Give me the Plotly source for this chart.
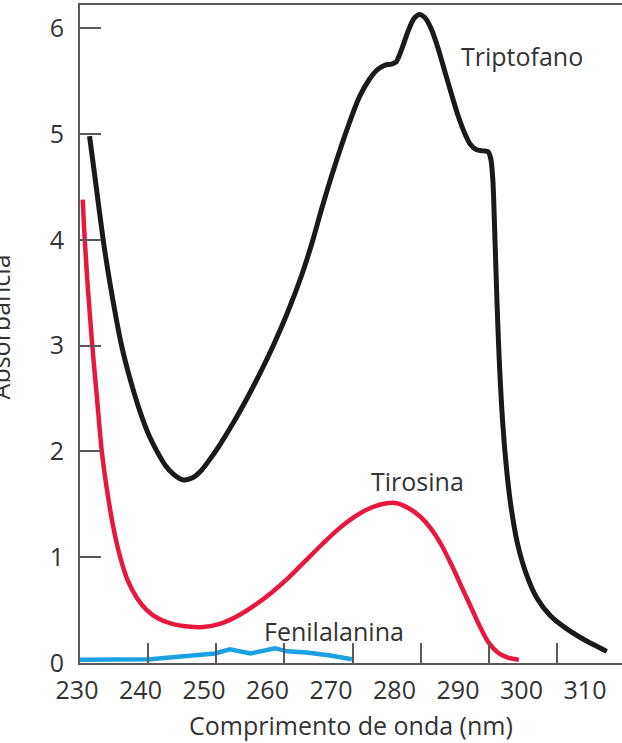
import plotly.graph_objects as go

# Absorption spectra of the aromatic amino acids (wavelength in nm, absorbance)
trp_nm = [231.4, 232.4, 233.4, 234.5, 236.1, 237.5, 239.0, 240.2, 241.3, 242.5,
          243.8, 245.2, 246.5, 247.8, 249.0, 250.5, 252.5, 254.5, 256.5, 258.5,
          260.5, 262.5, 264.0, 265.5, 267.5, 269.5, 271.0, 272.5, 273.7, 274.8,
          275.7, 276.4, 277.2, 278.2, 279.0, 279.8, 280.6, 281.5, 282.5, 283.5,
          284.5, 285.5, 286.5, 287.3, 288.2, 289.2, 289.9, 290.3, 290.6, 290.9,
          291.2, 291.5, 291.9, 292.5, 293.2, 294.2, 295.5, 297.0, 299.0, 301.5,
          304.0, 307.3]
trp_abs = [4.98, 4.49, 4.00, 3.55, 3.00, 2.65, 2.34, 2.14, 2.00, 1.87,
           1.78, 1.73, 1.75, 1.82, 1.92, 2.06, 2.27, 2.50, 2.75, 3.02,
           3.32, 3.66, 3.96, 4.30, 4.72, 5.10, 5.35, 5.52, 5.61, 5.65,
           5.66, 5.68, 5.80, 5.98, 6.09, 6.13, 6.10, 6.00, 5.82, 5.60,
           5.38, 5.17, 5.00, 4.90, 4.85, 4.84, 4.83, 4.76, 4.55, 4.00,
           3.40, 2.90, 2.40, 1.90, 1.50, 1.13, 0.84, 0.62, 0.45, 0.32,
           0.22, 0.11]

tyr_nm = [230.4, 230.7, 231.2, 231.8, 232.5, 233.2, 234.0, 234.9, 235.9, 237.0,
          238.3, 239.8, 241.5, 243.5, 245.8, 248.1, 250.5, 253.0, 255.5, 258.0,
          260.5, 263.0, 265.5, 268.0, 270.5, 272.8, 275.0, 276.5, 278.3, 280.0,
          281.5, 283.0, 284.5, 286.0, 287.5, 288.8, 290.0, 291.3, 292.8, 294.4]
tyr_abs = [4.38, 4.00, 3.50, 3.00, 2.50, 2.00, 1.62, 1.28, 1.00, 0.78,
           0.62, 0.50, 0.42, 0.37, 0.345, 0.34, 0.37, 0.44, 0.54, 0.66,
           0.80, 0.96, 1.12, 1.27, 1.39, 1.47, 1.51, 1.51, 1.46, 1.38,
           1.27, 1.12, 0.93, 0.72, 0.51, 0.33, 0.19, 0.10, 0.05, 0.03]

phe_nm = [230.0, 240.3, 249.8, 252.0, 255.0, 258.6, 260.4, 263.3, 266.7, 269.9]
phe_abs = [0.03, 0.035, 0.09, 0.13, 0.09, 0.14, 0.11, 0.10, 0.07, 0.035]

tick_nm = [230, 240, 250, 260, 270, 280, 290, 300]
label_nm = [230, 240, 250, 260, 270, 280, 290, 300, 310]
y_ticks = [0, 1, 2, 3, 4, 5, 6]

names = ["Triptofano", "Tirosina", "Fenilalanina"]
name_pos = [(294.9, 5.74), (279.5, 1.72), (267.3, 0.30)]

FONT = "Open Sans"
TEXT = "#333333"
AXIS = "#5a5a5a"
SIZE = 25

fig = go.Figure()
fig.add_trace(go.Scatter(x=phe_nm, y=phe_abs, mode="lines",
                         line=dict(color="#1ba1e2", width=4.5), name=names[2]))
fig.add_trace(go.Scatter(x=tyr_nm, y=tyr_abs, mode="lines",
                         line=dict(color="#e8173e", width=4.5, shape="spline", smoothing=1),
                         name=names[1]))
fig.add_trace(go.Scatter(x=trp_nm, y=trp_abs, mode="lines",
                         line=dict(color="#1a1a1a", width=5, shape="spline", smoothing=0.7),
                         name=names[0]))
# carrier trace for the labelled wavelength axis
fig.add_trace(go.Scatter(x=[None], y=[None], xaxis="x2", showlegend=False, hoverinfo="skip"))

for txt, (xv, yv) in zip(names, name_pos):
    fig.add_annotation(x=xv, y=yv, text=txt, showarrow=False,
                       font=dict(family=FONT, size=SIZE, color=TEXT))

fig.add_annotation(xref="paper", yref="paper", x=0.509, y=-0.094, text="Comprimento de onda (nm)",
                   showarrow=False, yanchor="middle", font=dict(family=FONT, size=SIZE, color=TEXT))
fig.add_annotation(xref="paper", yref="paper", x=-0.0942, y=0.51, text="Absorbância",
                   textangle=-90, showarrow=False, xanchor="right", yanchor="middle",
                   borderpad=0, font=dict(family=FONT, size=SIZE, color=TEXT))

fig.update_layout(
    width=622, height=743, autosize=False,
    margin=dict(l=70, r=0, t=5, b=80),
    plot_bgcolor="rgba(0,0,0,0)", paper_bgcolor="white",
    showlegend=False,
    xaxis=dict(domain=[10 / 552, 1], range=[230, 309.54], tickvals=tick_nm, showticklabels=False,
               ticks="inside", ticklen=20, tickwidth=1.5, tickcolor=AXIS,
               showline=True, linecolor=AXIS, linewidth=2, mirror=True,
               showgrid=False, zeroline=False),
    xaxis2=dict(domain=[0, 1], anchor="y", side="bottom", range=[228.898, 315.83],
                tickvals=label_nm, ticks="", showline=False, showgrid=False, zeroline=False,
                ticklabelstandoff=10, tickfont=dict(family=FONT, size=SIZE, color=TEXT)),
    yaxis=dict(anchor="x", range=[0, 6.219], tickvals=y_ticks,
               ticks="inside", ticklen=21, tickwidth=1.5, tickcolor=AXIS,
               showline=True, linecolor=AXIS, linewidth=2, mirror=False,
               showgrid=False, zeroline=False, ticklabelstandoff=9,
               tickfont=dict(family=FONT, size=SIZE, color=TEXT)),
)

fig.write_html("out.html")
